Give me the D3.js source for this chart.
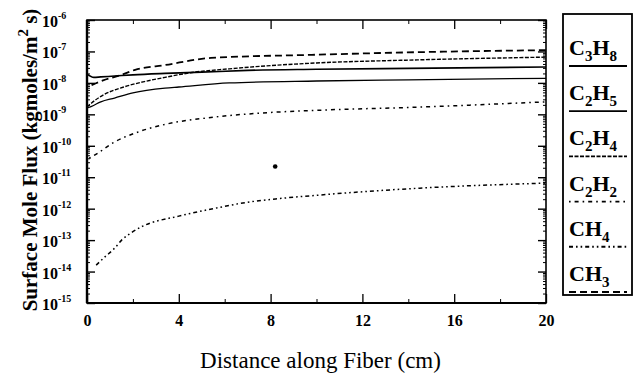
<!DOCTYPE html>
<html><head><meta charset="utf-8">
<script src="https://cdn.jsdelivr.net/npm/d3@7"></script>
<style>body{margin:0;background:#fff}svg{display:block}</style>
</head><body><svg id="c" width="637" height="375"></svg>
<script>
// ---- data (distance cm, flux kgmoles/m^2 s) ----
const xTicks = [0, 4, 8, 12, 16, 20];
const yExponents = [-6, -7, -8, -9, -10, -11, -12, -13, -14, -15];
const c3h8 = [[0,1.9e-8],[0.3,1.5e-8],[0.6,1.55e-8],[1.2,1.65e-8],[2,1.8e-8],[3.4,2.0e-8],[5,2.2e-8],[7,2.5e-8],[10,2.7e-8],[14,2.9e-8],[20,3.2e-8]];
const c2h5 = [[0,1.6e-9],[0.2,1.8e-9],[0.6,2.5e-9],[1.2,3.3e-9],[2,4.8e-9],[3.4,6.8e-9],[4,7.4e-9],[6.2,1.0e-8],[10,1.15e-8],[14,1.25e-8],[20,1.4e-8]];
const c2h4 = [[0,1.7e-9],[0.2,2.3e-9],[0.7,4.1e-9],[1.6,7.4e-9],[2.5,1.1e-8],[3.4,1.5e-8],[4.5,2.1e-8],[6.2,2.8e-8],[10,4.3e-8],[14,5.3e-8],[20,6.6e-8]];
const c2h2 = [[0.1,4.0e-11],[0.5,6.0e-11],[1.1,1.2e-10],[2.2,2.7e-10],[3.3,4.6e-10],[5.5,8.1e-10],[7.6,1.1e-9],[10.1,1.35e-9],[14.5,1.7e-9],[20,2.5e-9]];
const ch4 = [[0.4,1.6e-14],[0.75,2.8e-14],[1.2,5.5e-14],[1.5,9.8e-14],[1.9,1.66e-13],[2.35,2.6e-13],[4,5.8e-13],[5.5,1.0e-12],[7,1.6e-12],[8.4,2.1e-12],[10.1,2.7e-12],[14.5,4.5e-12],[20,6.5e-12]];
const ch3 = [[0.2,8.5e-9],[0.7,1.2e-8],[1.5,1.8e-8],[2.1,2.6e-8],[3.4,3.7e-8],[5.4,6.2e-8],[9.8,7.8e-8],[14.5,9.5e-8],[20,1.1e-7]];
const strayPoint = [[8.2, 2.2e-11]];
const speciesNames = [["C","3","H","8"],["C","2","H","5"],["C","2","H","4"],["C","2","H","2"],["CH","4"],["CH","3"]];

// ---- layout ----
const svg = d3.select("#c");
const L = 87, R = 546, T = 20, B = 303;
const x = d3.scaleLinear().domain([0,20]).range([L,R]);
const y = d3.scaleLog().domain([1e-15,1e-6]).range([B,T]);
const serif = "'Liberation Serif', 'Times New Roman', serif";

const series = [
  {d:c3h8, w:1.6, dash:null},
  {d:c2h5, w:1.3, dash:null},
  {d:c2h4, w:1.4, dash:"4,1.5"},
  {d:c2h2, w:1.5, dash:"1.6,4,4,4"},
  {d:ch4,  w:1.5, dash:"4,3,1.6,3,1.6,3"},
  {d:ch3,  w:1.8, dash:"7,4"}
];

const line = d3.line().x(d=>x(d[0])).y(d=>y(d[1])).curve(d3.curveMonotoneX);
svg.append("g").selectAll("path").data(series).join("path")
  .attr("d", s=>line(s.d)).attr("fill","none").attr("stroke","#000")
  .attr("stroke-width", s=>s.w).attr("stroke-dasharray", s=>s.dash);

svg.selectAll("circle.stray").data(strayPoint).join("circle")
  .attr("cx", d=>x(d[0])).attr("cy", d=>y(d[1])).attr("r", 2.3).attr("fill","#000");

// frame
svg.append("rect").attr("x",L).attr("y",T).attr("width",R-L).attr("height",B-T)
  .attr("fill","none").attr("stroke","#000").attr("stroke-width",1.6);
svg.append("line").attr("x1",L).attr("x2",L).attr("y1",T).attr("y2",B).attr("stroke","#000").attr("stroke-width",2.4);
svg.append("line").attr("x1",L).attr("x2",R).attr("y1",B).attr("y2",B).attr("stroke","#000").attr("stroke-width",2);

// x axes (bottom with labels, top ticks only)
const xMinor = d3.range(2,20,4);
const axB = d3.axisBottom(x).tickValues(xTicks).tickSize(-9).tickFormat(d3.format("d")).tickPadding(12);
const gB = svg.append("g").attr("transform",`translate(0,${B})`).call(axB);
gB.select(".domain").remove();
gB.selectAll("line").attr("stroke-width",1.3);
gB.selectAll("text").attr("font-family",serif).attr("font-weight","bold").attr("font-size",16).attr("fill","#000");
svg.append("g").attr("transform",`translate(0,${B})`).call(d3.axisBottom(x).tickValues(xMinor).tickSize(-4).tickFormat(""))
  .call(g=>g.select(".domain").remove());
svg.append("g").attr("transform",`translate(0,${T})`).call(d3.axisTop(x).tickValues(xTicks).tickSize(-9).tickFormat(""))
  .call(g=>g.select(".domain").remove()).selectAll("line").attr("stroke-width",1.3);
svg.append("g").attr("transform",`translate(0,${T})`).call(d3.axisTop(x).tickValues(xMinor).tickSize(-4).tickFormat(""))
  .call(g=>g.select(".domain").remove());

// y axes
const yMajor = yExponents.map(e=>Math.pow(10,e));
const yMinor = [];
for (let e=-15; e<-6; e++) for (let k=2; k<10; k++) yMinor.push(k*Math.pow(10,e));
[[d3.axisLeft, L],[d3.axisRight, R]].forEach(([ax,pos])=>{
  svg.append("g").attr("transform",`translate(${pos},0)`).call(ax(y).tickValues(yMajor).tickSize(-8).tickFormat(""))
    .call(g=>g.select(".domain").remove()).selectAll("line").attr("stroke-width",1.4);
  svg.append("g").attr("transform",`translate(${pos},0)`).call(ax(y).tickValues(yMinor).tickSize(-3).tickFormat(""))
    .call(g=>g.select(".domain").remove());
});
// y tick labels 10^n
const yl = svg.append("g").selectAll("text").data(yExponents).join("text")
  .attr("x", 42).attr("y", e=>y(Math.pow(10,e))+7)
  .attr("font-family",serif).attr("font-weight","bold").attr("font-size",16);
yl.append("tspan").text("10");
yl.append("tspan").attr("dy",-8).attr("font-size",10).text(e=>String(e));

// axis titles
svg.append("text").attr("x",(L+R)/2+4).attr("y",368).attr("text-anchor","middle")
  .attr("font-family",serif).attr("font-size",23).text("Distance along Fiber (cm)");
const yt = svg.append("text").attr("transform","translate(37,160) rotate(-90)").attr("text-anchor","middle")
  .attr("font-family",serif).attr("font-weight","bold").attr("font-size",21);
yt.append("tspan").text("Surface Mole Flux (kgmoles/m");
yt.append("tspan").attr("dy",-9).attr("font-size",15).text("2");
yt.append("tspan").attr("dy",9).text(" s)");

// legend
const lg = svg.append("g");
lg.append("rect").attr("x",563).attr("y",14).attr("width",69).attr("height",281)
  .attr("fill","none").attr("stroke","#000").attr("stroke-width",1.8);
const ly = d3.scaleLinear().domain([0,5]).range([66,292]);
const items = lg.selectAll("g.it").data(series).join("g")
  .attr("transform",(s,i)=>`translate(569,${ly(i)})`);
items.append("line").attr("x1",0).attr("x2",58).attr("y1",0).attr("y2",0)
  .attr("stroke","#000").attr("stroke-width",s=>s.w+0.4).attr("stroke-dasharray",s=>s.dash);
const lt = items.append("text").attr("x",0).attr("y",-11).attr("font-family",serif)
  .attr("font-weight","bold").attr("font-size",22);
lt.each(function(s,i){
  const t = d3.select(this);
  speciesNames[i].forEach((p,j)=>{
    const sub = j%2===1;
    t.append("tspan").attr("font-size", sub?15:22).attr("dy", j===0?0:(sub?6:-6)).text(p);
  });
});
</script></body></html>
